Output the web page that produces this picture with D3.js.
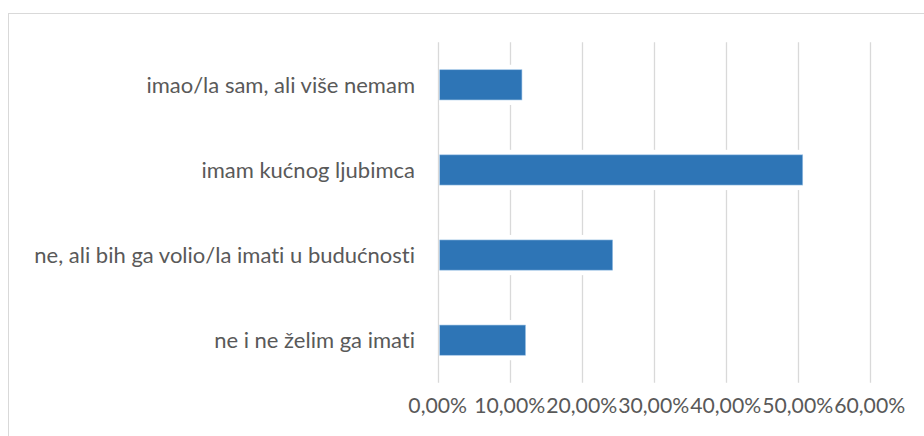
<!DOCTYPE html>
<html>
<head>
<meta charset="utf-8">
<script src="https://cdn.jsdelivr.net/npm/d3@7"></script>
<style>
  html, body { margin: 0; padding: 0; background: #fff; }
  svg { display: block; }
  text { font-variant-ligatures: none; font-feature-settings: "liga" 0; }
</style>
</head>
<body>
<svg id="chart" width="924" height="436"></svg>
<script>
const categories = [
  "imao/la sam, ali više nemam",
  "imam kućnog ljubimca",
  "ne, ali bih ga volio/la imati u budućnosti",
  "ne i ne želim ga imati"
];
const values = [11.7, 50.7, 24.3, 12.2];
const tickValues = [0, 10, 20, 30, 40, 50, 60];
const tickLabels = ["0,00%", "10,00%", "20,00%", "30,00%", "40,00%", "50,00%", "60,00%"];

const svg = d3.select("#chart");
const W = 924, H = 436;
const font = "Lato, 'Open Sans', sans-serif";
const textColor = "#595959";
const gridColor = "#D9D9D9";
const barColor = "#2E75B6";

// chart border
svg.append("rect")
  .attr("x", 8.5).attr("y", 13.5)
  .attr("width", W).attr("height", H)
  .attr("fill", "none").attr("stroke", gridColor).attr("stroke-width", 1);

const x = d3.scaleLinear().domain([0, 60]).range([437.7, 869.7]);
const y = d3.scaleBand().domain(categories).range([42.3, 382.7]).paddingInner(0.645).paddingOuter(0.3225);

function fitSize(str, target) {
  const probe = svg.append("text").attr("font-family", font).attr("font-size", 18.67).text(str);
  const m = probe.node().getComputedTextLength();
  probe.remove();
  return Math.max(14, Math.min(22, 18.67 * target / m));
}
const fontSize = fitSize(categories[2], 388);
const tickSize = fitSize(tickLabels[1], 71);

// gridlines
svg.append("g").selectAll("line").data(tickValues).join("line")
  .attr("x1", d => Math.round(x(d)) + 0.5).attr("x2", d => Math.round(x(d)) + 0.5)
  .attr("y1", 42.3).attr("y2", 382.7)
  .attr("stroke", gridColor).attr("stroke-width", 1.3);

// white halos behind bars (break gridlines)
svg.append("g").selectAll("rect").data(values).join("rect")
  .attr("x", x(0) + 1.5)
  .attr("y", (d, i) => y(categories[i]) - 5)
  .attr("width", d => x(d) - x(0) - 1.5)
  .attr("height", y.bandwidth() + 10)
  .attr("fill", "#fff");

// bars
svg.append("g").selectAll("rect").data(values).join("rect")
  .attr("x", x(0) + 2)
  .attr("y", (d, i) => y(categories[i]))
  .attr("width", d => x(d) - x(0) - 2)
  .attr("height", y.bandwidth())
  .attr("fill", barColor)
  .attr("stroke", "#9DC3E6").attr("stroke-width", 0.6);

// category labels
svg.append("g").selectAll("text").data(categories).join("text")
  .attr("x", 415)
  .attr("y", d => y(d) + y.bandwidth() / 2)
  .attr("dy", "0.35em")
  .attr("text-anchor", "end")
  .attr("font-family", font).attr("font-size", fontSize)
  .attr("fill", textColor)
  .text(d => d);

// tick labels
svg.append("g").selectAll("text").data(tickValues).join("text")
  .attr("x", d => x(d))
  .attr("y", 413)
  .attr("text-anchor", "middle")
  .attr("font-family", font).attr("font-size", tickSize)
  .attr("fill", textColor)
  .text((d, i) => tickLabels[i]);
</script>
</body>
</html>
